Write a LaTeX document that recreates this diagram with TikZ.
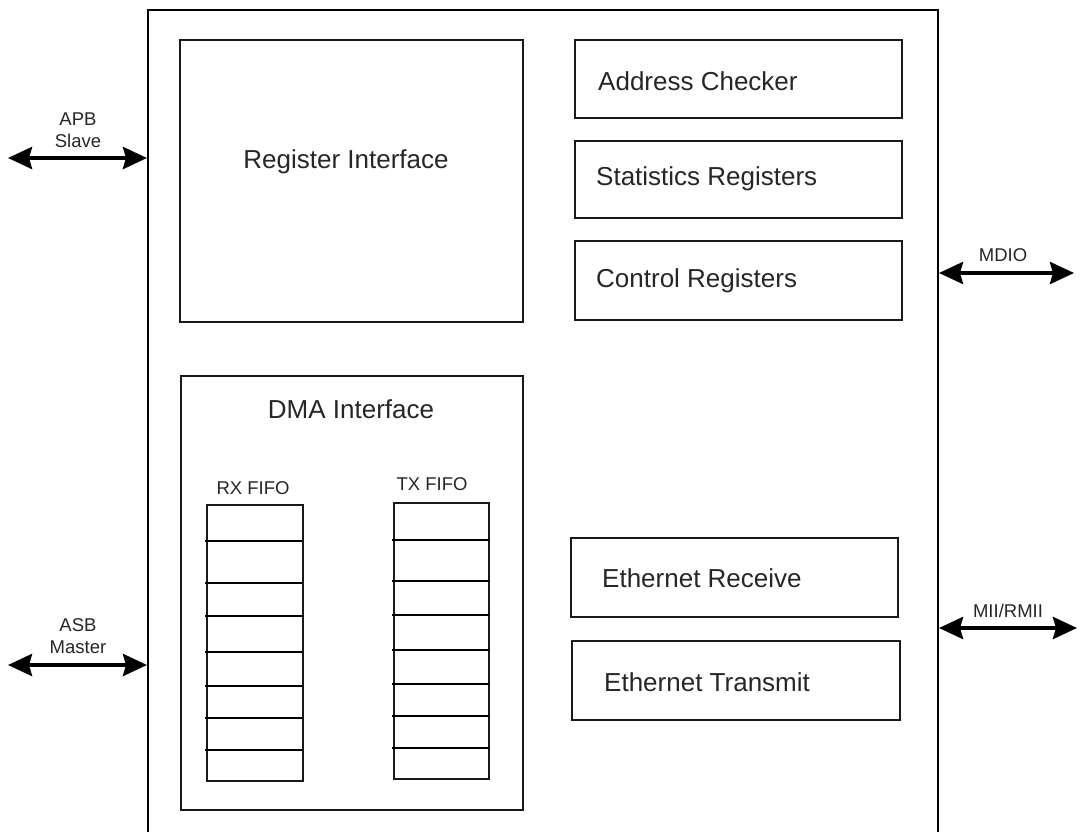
\documentclass[tikz,border=0pt]{standalone}
\usepackage{fontspec}
\setmainfont{Liberation Sans}
\usetikzlibrary{arrows.meta}
\begin{document}
\begin{tikzpicture}[x=1pt,y=-1pt,
  blk/.style={draw=black!90,line width=1.6pt},
  big/.style={font=\fontsize{26}{30}\selectfont,inner sep=0pt,text=black!85},
  lbl/.style={font=\fontsize{18.5}{22}\selectfont,inner sep=0pt,align=center,text=black!85},
  bus/.style={line width=4pt,{Stealth[length=24pt,width=22pt,inset=3pt]}-{Stealth[length=24pt,width=22pt,inset=3pt]}},
  cell/.style={line width=1.4pt}]
\useasboundingbox (0,0) rectangle (1081,832);
% main outline
\coordinate (mbl) at (148,832);
\coordinate (mtl) at (148,10);
\coordinate (mtr) at (938,10);
\coordinate (mbr) at (938,832);
\draw[line width=2.2pt] (mbl) -- (mtl) -- (mtr) -- (mbr);
% register interface
\draw[blk] (180,40) rectangle (523,322);
\node[big] (regif) at (346,162) {Register Interface};
% right register blocks
\draw[blk] (575,40) rectangle (902,118);
\node[big,anchor=west] (addr) at (598,81) {Address Checker};
\draw[blk] (575,141) rectangle (902,218);
\node[big,anchor=west] (stat) at (596,179) {Statistics Registers};
\draw[blk] (575,241) rectangle (902,320);
\node[big,anchor=west] (ctrl) at (596,281) {Control Registers};
% DMA
\draw[blk] (181,376) rectangle (523,810);
\node[big] (dma) at (351,409) {DMA Interface};
\node[lbl] (rxl) at (253,488) {RX FIFO};
\node[lbl] (txl) at (432,484) {TX FIFO};
\draw[blk] (207,505) rectangle (303,781);
\foreach \yy in {541,583,616,652,686,718,750}
  \draw[cell] (205,\yy) -- (302,\yy);
\draw[blk] (394,503) rectangle (489,779);
\foreach \yy in {540,581,615,650,684,716,748}
  \draw[cell] (392,\yy) -- (489,\yy);
% ethernet
\draw[blk] (571,538) rectangle (898,617);
\node[big,anchor=west] (erx) at (602,578) {Ethernet Receive};
\draw[blk] (572,641) rectangle (900,720);
\node[big,anchor=west] (etx) at (604,682) {Ethernet Transmit};
% external buses
\coordinate (apbL) at (8,158);
\coordinate (apbR) at (147,158);
\draw[bus] (apbL) -- (apbR);
\node[lbl] (apb) at (78,130) {APB\\Slave};
\coordinate (asbL) at (8,665);
\coordinate (asbR) at (147,665);
\draw[bus] (asbL) -- (asbR);
\node[lbl] (asb) at (78,636) {ASB\\Master};
\coordinate (mdioL) at (939,273);
\coordinate (mdioR) at (1074,273);
\draw[bus] (mdioL) -- (mdioR);
\node[lbl] (mdio) at (1003,255) {MDIO};
\coordinate (miiL) at (939,628);
\coordinate (miiR) at (1077,628);
\draw[bus] (miiL) -- (miiR);
\node[lbl] (mii) at (1008,611) {MII/RMII};
\end{tikzpicture}
\end{document}
